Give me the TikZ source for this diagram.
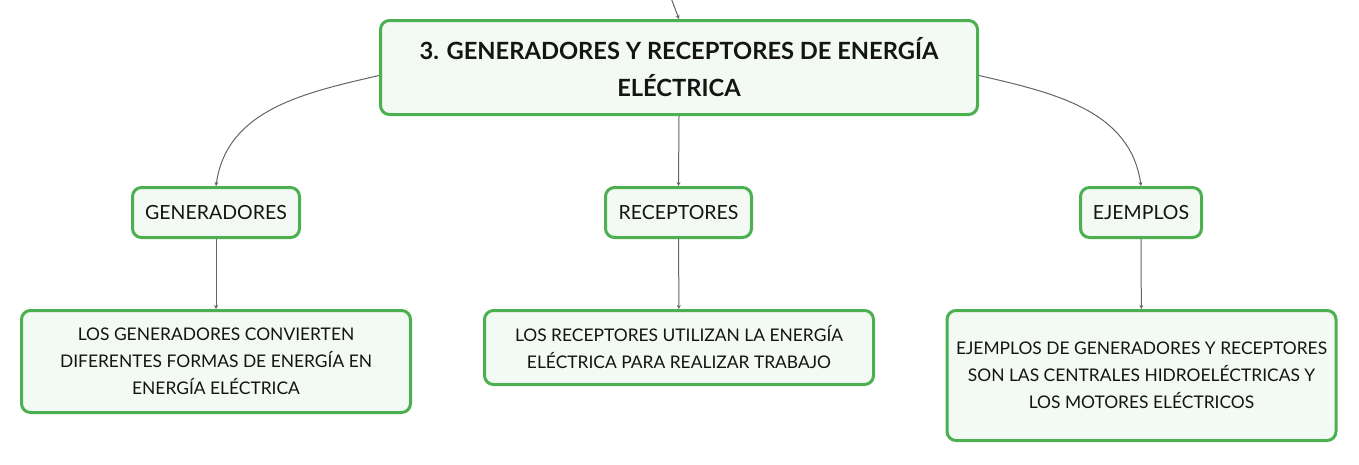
\documentclass[tikz,border=0pt]{standalone}
\usepackage{fontspec}
\setmainfont{Lato}
\usetikzlibrary{arrows.meta}
\definecolor{boxgreen}{RGB}{76,175,80}
\definecolor{boxfill}{RGB}{242,250,243}
\definecolor{linkgray}{RGB}{100,100,100}
\definecolor{inkblack}{RGB}{20,20,20}
\tikzset{
    topic/.style={draw=boxgreen, fill=boxfill, line width=3pt, rounded corners=9pt,
        align=center, inner sep=0pt, text=inkblack},
    subtopic/.style={topic, minimum height=50pt, font=\fontsize{19.5}{23}\selectfont},
    leaftopic/.style={topic, minimum width=389pt, font=\fontsize{17.4}{27}\selectfont},
    link/.style={draw=linkgray, line width=1pt, -{Stealth[length=4pt,width=4pt]}},
}
\begin{document}
\begin{tikzpicture}[x=1pt,y=-1pt]
    \useasboundingbox (0,0) rectangle (1359,464);

    % main topic
    \node[topic, minimum width=597pt, minimum height=94pt,
        font=\bfseries\fontsize{23.7}{37}\selectfont] (main) at (679,67.5)
        {3. GENERADORES Y RECEPTORES DE ENERGÍA\\ELÉCTRICA};
    \coordinate (parent) at (668,-10);
    \draw[link] (parent) -- (main.north);

    % branches
    \node[subtopic, minimum width=167pt] (gen) at (216,212.5) {GENERADORES};
    \node[subtopic, minimum width=146pt] (rec) at (678.5,212.5) {RECEPTORES};
    \node[subtopic, minimum width=121pt] (eje) at (1141,212.5) {EJEMPLOS};
    \draw[link] ([yshift=-8pt]main.west) to[out=193, in=82] (gen.north);
    \draw[link] (main.south) -- (rec.north);
    \draw[link] ([yshift=-8pt]main.east) to[out=-13, in=98] (eje.north);

    % leaves
    \node[leaftopic, minimum height=102pt] (gen-txt) at (216,361.5)
        {LOS GENERADORES CONVIERTEN\\DIFERENTES FORMAS DE ENERGÍA EN\\ENERGÍA ELÉCTRICA};
    \node[leaftopic, minimum height=74pt] (rec-txt) at (679,347.5)
        {LOS RECEPTORES UTILIZAN LA ENERGÍA\\ELÉCTRICA PARA REALIZAR TRABAJO};
    \node[leaftopic, minimum height=130pt] (eje-txt) at (1141.5,375.5)
        {EJEMPLOS DE GENERADORES Y RECEPTORES\\SON LAS CENTRALES HIDROELÉCTRICAS Y\\LOS MOTORES ELÉCTRICOS};
    \foreach \from/\to in {gen/gen-txt, rec/rec-txt, eje/eje-txt} {
            \draw[link] (\from) -- (\to);
        }
\end{tikzpicture}
\end{document}
